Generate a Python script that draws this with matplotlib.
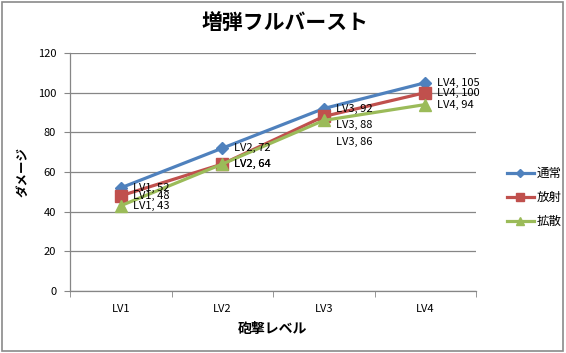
import matplotlib
matplotlib.use("Agg")
import matplotlib.pyplot as plt
from matplotlib.patches import Rectangle
import numpy as np

plt.rcParams['font.family'] = ['Noto Sans CJK JP', 'DejaVu Sans']

categories = ["LV1", "LV2", "LV3", "LV4"]
series_names = ["通常", "放射", "拡散"]
normal = [52, 72, 92, 105]
spread = [48, 64, 88, 100]
diffuse = [43, 64, 86, 94]
title = "増弾フルバースト"
xlabel = "砲撃レベル"
ylabel = "ダメージ"
yticks = [0, 20, 40, 60, 80, 100, 120]

colors = ["#4F81BD", "#C0504D", "#9BBB59"]
markers = ["D", "s", "^"]
msizes = [6, 8, 8]

fig = plt.figure(figsize=(5.66, 3.53), dpi=100)
ax = fig.add_axes([0.1237, 0.1756, 0.841 - 0.1237, 0.8499 - 0.1756])

x = np.arange(len(categories))
all_series = [normal, spread, diffuse]
for vals, name, c, m, ms in zip(all_series, series_names, colors, markers, msizes):
    ax.plot(x, vals, color=c, lw=2.3, marker=m, markersize=ms, label=name, zorder=3)

# data labels (offsets in points, styling only)
for si, vals in enumerate(all_series):
    for i, v in enumerate(vals):
        dy = 0
        if si == 1 and i == 2:
            dy = -6
        if si == 2 and i == 2:
            dy = -15.5
        ax.annotate(f"{categories[i]}, {v}", (x[i], v), xytext=(8.5, dy),
                    textcoords="offset points", ha="left", va="center",
                    fontsize=8, color="#000000", zorder=4)

ax.set_xlim(-0.5, len(categories) - 0.5)
ax.set_ylim(0, 120)
ax.set_yticks(yticks)
ax.set_xticks(x)
ax.set_xticklabels(categories)
ax.set_xticks(np.arange(len(categories) + 1) - 0.5, minor=True)
ax.tick_params(axis="x", which="major", length=0, pad=9, labelsize=8)
ax.tick_params(axis="x", which="minor", length=4, color="#868686")
ax.tick_params(axis="y", length=4, color="#868686", labelsize=8, pad=6)
ax.grid(axis="y", color="#868686", lw=0.9)
ax.set_axisbelow(True)
for s in ["top", "right"]:
    ax.spines[s].set_visible(False)
for s in ["left", "bottom"]:
    ax.spines[s].set_color("#868686")
    ax.spines[s].set_linewidth(0.9)

ax.set_xlabel(xlabel, fontsize=10, fontweight="bold", labelpad=6)
ax.set_ylabel(ylabel, fontsize=9, fontweight="bold", labelpad=6)
fig.text(0.503, 0.935, title, ha="center", va="center", fontsize=15, fontweight="bold")

fig.legend(loc="center left", bbox_to_anchor=(0.875, 0.44), frameon=False,
           fontsize=9, handlelength=2.2, handletextpad=0.2, labelspacing=0.9,
           markerscale=0.7)

fig.patches.append(Rectangle((0.003, 0.006), 0.992, 0.988, transform=fig.transFigure,
                             fill=False, edgecolor="#8a8a8a", lw=1.2))

fig.savefig("out.png", dpi=100)
